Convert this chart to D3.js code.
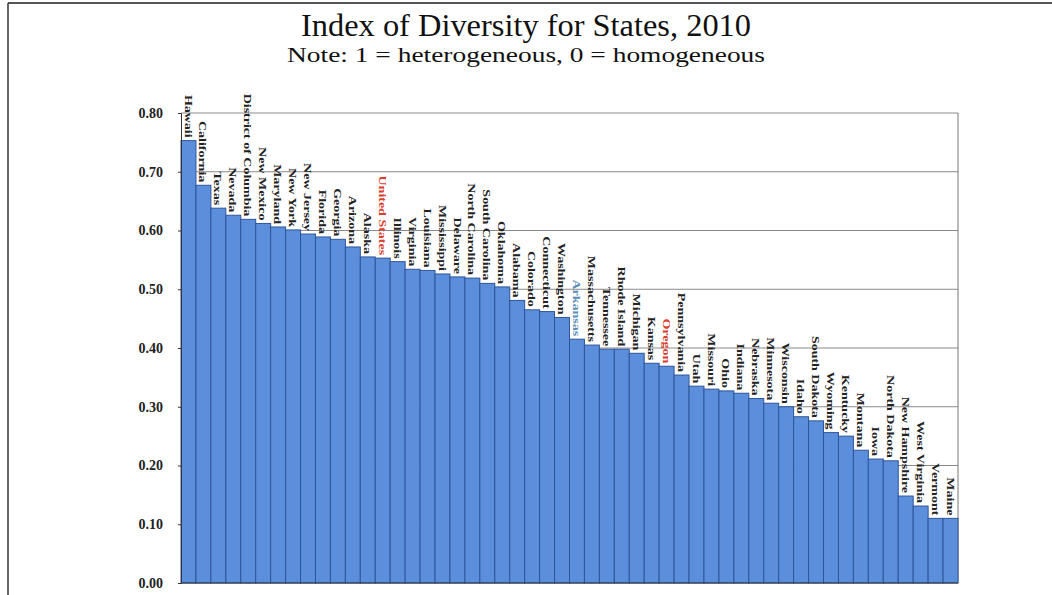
<!DOCTYPE html>
<html><head><meta charset="utf-8">
<script src="https://cdn.jsdelivr.net/npm/d3@7"></script>
<style>html,body{margin:0;padding:0;background:#fff;}svg{display:block;}</style>
</head><body>
<svg id="chart" width="1052" height="595"></svg>
<script>
const states = ["Hawaii","California","Texas","Nevada","District of Columbia","New Mexico","Maryland","New York","New Jersey","Florida","Georgia","Arizona","Alaska","United States","Illinois","Virginia","Louisiana","Mississippi","Delaware","North Carolina","South Carolina","Oklahoma","Alabama","Colorado","Connecticut","Washington","Arkansas","Massachusetts","Tennessee","Rhode Island","Michigan","Kansas","Oregon","Pennsylvania","Utah","Missouri","Ohio","Indiana","Nebraska","Minnesota","Wisconsin","Idaho","South Dakota","Wyoming","Kentucky","Montana","Iowa","North Dakota","New Hampshire","West Virginia","Vermont","Maine"];
const diversity = [0.753,0.677,0.638,0.626,0.619,0.612,0.606,0.601,0.594,0.589,0.585,0.572,0.555,0.553,0.547,0.534,0.532,0.526,0.521,0.519,0.510,0.504,0.481,0.465,0.462,0.452,0.415,0.405,0.398,0.398,0.391,0.374,0.369,0.354,0.335,0.330,0.327,0.323,0.314,0.306,0.300,0.283,0.276,0.256,0.250,0.226,0.211,0.208,0.148,0.131,0.110,0.110];
const yTicks = [0.00,0.10,0.20,0.30,0.40,0.50,0.60,0.70,0.80];
const highlightRed = ["United States","Oregon"];
const highlightBlue = ["Arkansas"];
const titleText = "Index of Diversity for States, 2010";
const subtitleText = "Note: 1 = heterogeneous, 0 = homogeneous";

const svg = d3.select("#chart");
const plotLeft = 181, plotRight = 958, plotTop = 113, plotBottom = 583;
const serif = "Liberation Serif, Times New Roman, serif";

// frame
svg.append("line").attr("x1",8).attr("x2",1052).attr("y1",3).attr("y2",3).attr("stroke","#555").attr("stroke-width",2);
svg.append("line").attr("x1",8).attr("x2",8).attr("y1",3).attr("y2",595).attr("stroke","#333").attr("stroke-width",1.5);

svg.append("text").attr("x",526).attr("y",36).attr("text-anchor","middle")
  .attr("font-family",serif).attr("font-size",32)
  .attr("textLength",450).attr("lengthAdjust","spacingAndGlyphs").attr("fill","#111").text(titleText);
svg.append("text").attr("x",526).attr("y",62).attr("text-anchor","middle")
  .attr("font-family",serif).attr("font-size",22)
  .attr("textLength",478).attr("lengthAdjust","spacingAndGlyphs").attr("fill","#111").text(subtitleText);

const x = d3.scaleBand().domain(states).range([plotLeft,plotRight]).padding(0);
const y = d3.scaleLinear().domain([0,0.8]).range([plotBottom,plotTop]);

// gridlines
svg.append("g").selectAll("line").data(yTicks.filter(d=>d>0)).join("line")
  .attr("x1",plotLeft).attr("x2",plotRight).attr("y1",d=>y(d)).attr("y2",d=>y(d))
  .attr("stroke","#8a8a8a").attr("stroke-width",1);
// plot border right
svg.append("line").attr("x1",plotRight).attr("x2",plotRight).attr("y1",plotTop).attr("y2",plotBottom).attr("stroke","#777").attr("stroke-width",1);

// bars
svg.append("g").selectAll("rect").data(states).join("rect")
  .attr("x",d=>x(d)).attr("width",x.bandwidth())
  .attr("y",(d,i)=>y(diversity[i])).attr("height",(d,i)=>y(0)-y(diversity[i]))
  .attr("fill","#5b8fdc").attr("stroke","#2f5499").attr("stroke-width",1);

// y axis
const yAxis = d3.axisLeft(y).tickValues(yTicks).tickFormat(d3.format(".2f")).tickSize(3).tickPadding(15);
const ga = svg.append("g").attr("transform",`translate(${plotLeft},0)`).call(yAxis);
ga.select(".domain").attr("stroke","#333");
ga.selectAll(".tick line").attr("stroke","#333");
ga.selectAll(".tick text").attr("font-family",serif)
  .attr("font-size",14).attr("fill","#222").attr("font-weight",600);
// baseline
svg.append("line").attr("x1",plotLeft).attr("x2",plotRight).attr("y1",plotBottom).attr("y2",plotBottom).attr("stroke","#333");

// labels
svg.append("g").selectAll("text").data(states).join("text")
  .attr("transform",(d,i)=>`translate(${x(d)+x.bandwidth()/2},${y(diversity[i])-3}) rotate(90) scale(1,0.8)`)
  .attr("text-anchor","end").attr("dy","0.35em")
  .attr("font-family",serif).attr("font-size",14).attr("font-weight","bold")
  .attr("fill",d=>highlightRed.includes(d)?"#d8402e":(highlightBlue.includes(d)?"#5a8fb8":"#222"))
  .text(d=>d);
</script>
</body></html>
